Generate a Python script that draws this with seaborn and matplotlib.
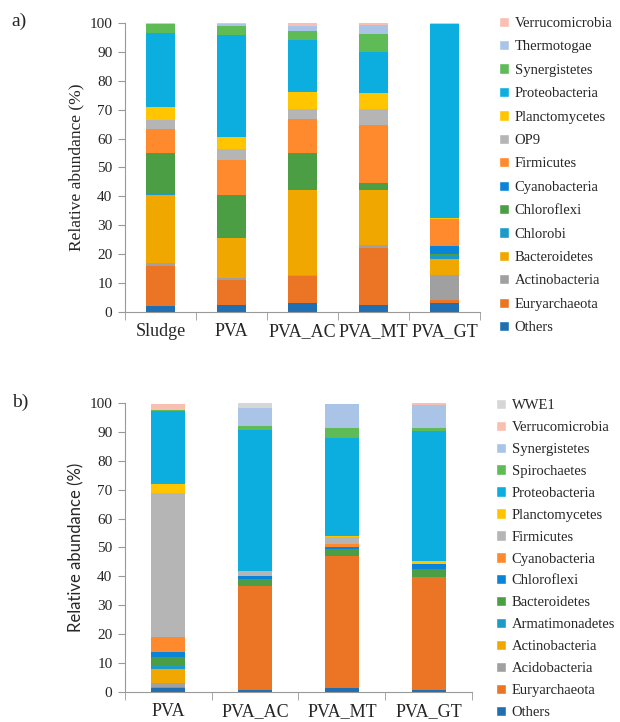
import matplotlib
matplotlib.use("Agg")
import matplotlib.pyplot as plt
import numpy as np
import pandas as pd
import seaborn as sns
from matplotlib.patches import Patch
from matplotlib.ticker import FixedLocator

# ---- panel a) data ----
samples_a = ["Sludge", "PVA", "PVA_AC", "PVA_MT", "PVA_GT"]
phyla_a = ["Others", "Euryarchaeota", "Actinobacteria", "Bacteroidetes", "Chlorobi",
           "Chloroflexi", "Cyanobacteria", "Firmicutes", "OP9", "Planctomycetes",
           "Proteobacteria", "Synergistetes", "Thermotogae", "Verrucomicrobia"]
others_a = [2.1, 2.4, 3.1, 2.4, 3.0]
euryarchaeota_a = [13.7, 8.8, 9.5, 19.8, 1.3]
actinobacteria_a = [1.1, 0.6, 0.3, 0.9, 8.4]
bacteroidetes_a = [23.7, 13.7, 29.3, 19.1, 5.8]
chlorobi_a = [0.4, 0.6, 0.2, 0.0, 0.8]
chloroflexi_a = [13.9, 14.4, 12.5, 2.4, 0.8]
cyanobacteria_a = [0.0, 0.0, 0.0, 0.0, 2.6]
firmicutes_a = [8.5, 12.1, 11.9, 20.0, 9.3]
op9_a = [3.1, 3.9, 3.5, 5.7, 0.0]
planctomycetes_a = [4.5, 4.1, 5.8, 5.3, 0.4]
proteobacteria_a = [25.4, 35.1, 17.9, 14.3, 67.3]
synergistetes_a = [3.4, 3.3, 3.3, 6.4, 0.0]
thermotogae_a = [0.0, 0.5, 1.8, 2.9, 0.0]
verrucomicrobia_a = [0.2, 0.5, 0.9, 0.8, 0.3]

# ---- panel b) data ----
samples_b = ["PVA", "PVA_AC", "PVA_MT", "PVA_GT"]
phyla_b = ["Others", "Euryarchaeota", "Acidobacteria", "Actinobacteria", "Armatimonadetes",
           "Bacteroidetes", "Chloroflexi", "Cyanobacteria", "Firmicutes", "Planctomycetes",
           "Proteobacteria", "Spirochaetes", "Synergistetes", "Verrucomicrobia", "WWE1"]
others_b = [1.2, 0.6, 1.2, 0.6]
euryarchaeota_b = [0.5, 36.0, 45.9, 39.1]
acidobacteria_b = [1.3, 0.0, 0.0, 0.0]
actinobacteria_b = [5.0, 0.0, 0.0, 0.0]
armatimonadetes_b = [1.0, 0.0, 0.3, 0.0]
bacteroidetes_b = [3.1, 2.5, 2.0, 2.7]
chloroflexi_b = [1.6, 1.0, 0.9, 1.8]
cyanobacteria_b = [5.2, 0.0, 0.8, 0.0]
firmicutes_b = [49.9, 1.7, 2.4, 0.0]
planctomycetes_b = [3.0, 0.0, 0.6, 1.0]
proteobacteria_b = [25.3, 48.8, 33.6, 45.2]
spirochaetes_b = [0.4, 1.3, 3.5, 0.8]
synergistetes_b = [0.0, 6.3, 8.5, 8.0]
verrucomicrobia_b = [2.0, 0.0, 0.0, 0.8]
wwe1_b = [0.0, 1.7, 0.0, 0.0]

colors_a = ["#1F6FB2", "#EC7425", "#A0A0A0", "#F0A800", "#1C9BC9", "#4C9E45", "#0A84D8",
            "#FF8A2E", "#B5B5B5", "#FFC600", "#0CAEDF", "#5EBB55", "#A9C4E6", "#F9BFB0"]
colors_b = ["#1F6FB2", "#EC7425", "#A0A0A0", "#F0A800", "#1C9BC9", "#4C9E45", "#0A84D8",
            "#FF8A2E", "#B5B5B5", "#FFC600", "#0CAEDF", "#5EBB55", "#A9C4E6", "#F9BFB0", "#D6D6D6"]

df_a = pd.DataFrame(
    [others_a, euryarchaeota_a, actinobacteria_a, bacteroidetes_a, chlorobi_a, chloroflexi_a,
     cyanobacteria_a, firmicutes_a, op9_a, planctomycetes_a, proteobacteria_a, synergistetes_a,
     thermotogae_a, verrucomicrobia_a],
    index=phyla_a, columns=samples_a)
df_b = pd.DataFrame(
    [others_b, euryarchaeota_b, acidobacteria_b, actinobacteria_b, armatimonadetes_b,
     bacteroidetes_b, chloroflexi_b, cyanobacteria_b, firmicutes_b, planctomycetes_b,
     proteobacteria_b, spirochaetes_b, synergistetes_b, verrucomicrobia_b, wwe1_b],
    index=phyla_b, columns=samples_b)

sns.set_style("white")
plt.rcParams["font.family"] = ["Liberation Serif", "DejaVu Serif"]

fig = plt.figure(figsize=(6.2, 7.22), dpi=100)
ax_a = fig.add_axes([0.2016, 0.5679, 0.5726, 0.4003])
ax_b = fig.add_axes([0.2016, 0.0416, 0.5597, 0.4003])


def stacked(ax, df, colors, width):
    bottom = np.zeros(df.shape[1])
    for phylum, color in zip(df.index, colors):
        vals = df.loc[phylum].values
        sns.barplot(x=list(df.columns), y=vals, bottom=bottom, color=color,
                    width=width, errorbar=None, ax=ax, linewidth=0, saturation=1)
        bottom = bottom + vals
    n = df.shape[1]
    ax.set_xlim(-0.5, n - 0.5)
    ax.set_ylim(0, 100)
    ax.set_yticks(range(0, 101, 10))
    ax.xaxis.set_minor_locator(FixedLocator(np.arange(-0.5, n, 1.0)))
    ax.tick_params(axis="x", which="major", length=0, labelsize=13, pad=8)
    ax.tick_params(axis="x", which="minor", length=6, color="#999999", bottom=True)
    ax.tick_params(axis="y", length=5, color="#999999", labelsize=11, left=True, pad=4)
    for s in ["top", "right"]:
        ax.spines[s].set_visible(False)
    for s in ["left", "bottom"]:
        ax.spines[s].set_color("#999999")
    ax.set_xlabel("")
    handles = [Patch(facecolor=c, label=p) for p, c in zip(df.index, colors)][::-1]
    return handles


h_a = stacked(ax_a, df_a, colors_a, 0.4)
ax_a.set_ylabel("Relative abundance (%)", fontsize=12.5, family=["Liberation Serif"])
h_b = stacked(ax_b, df_b, colors_b, 0.39)
ax_b.set_ylabel("Relative abundance (%)", fontsize=12, family=["Lato", "DejaVu Sans"])

fig.legend(handles=h_a, loc="upper left", bbox_to_anchor=(0.795, 0.985), frameon=False,
           fontsize=10.5, handlelength=0.7, handleheight=0.7, handletextpad=0.4,
           labelspacing=0.70, borderaxespad=0)
fig.legend(handles=h_b, loc="upper left", bbox_to_anchor=(0.79, 0.456), frameon=False,
           fontsize=10.5, handlelength=0.7, handleheight=0.7, handletextpad=0.4,
           labelspacing=0.60, borderaxespad=0)

fig.text(0.018, 0.97, "a)", fontsize=14, ha="left", va="center")
fig.text(0.02, 0.443, "b)", fontsize=14, ha="left", va="center")

fig.savefig("out.png", dpi=100)
